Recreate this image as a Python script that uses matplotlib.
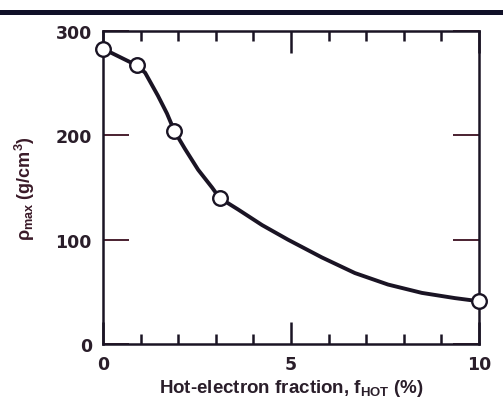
import matplotlib
matplotlib.use('Agg')
import matplotlib.pyplot as plt
from matplotlib.lines import Line2D
from matplotlib.ticker import FixedLocator

# measured points (open circles)
f_hot = [0, 0.9, 1.9, 3.1, 10]
rho_max = [283, 267, 204, 140, 41]

# trace of the drawn curve
curve_x = [0, 0.9, 1.12, 1.46, 1.7, 1.9, 2.18, 2.53, 2.9, 3.1, 3.59, 4.23,
           4.92, 5.82, 6.7, 7.58, 8.48, 9.36, 10]
curve_y = [283, 267, 260, 238, 221, 204, 187, 167, 150, 140, 129, 114,
           100, 83, 68, 57, 49, 44, 41]

x_ticks = [0, 5, 10]
x_minor = [1, 2, 3, 4, 6, 7, 8, 9]
y_ticks = [0, 100, 200, 300]

plt.rcParams['font.family'] = ['Liberation Sans', 'DejaVu Sans']
plt.rcParams['mathtext.fontset'] = 'custom'
plt.rcParams['mathtext.rm'] = 'Liberation Sans:bold'
plt.rcParams['mathtext.it'] = 'Liberation Sans:bold'

ink = '#1a1424'
txt = '#2a1e2a'

fig = plt.figure(figsize=(5.03, 4.06), dpi=100)
ax = fig.add_axes([0.2048, 0.1502, 0.7475, 0.771])

ax.plot(curve_x, curve_y, color=ink, lw=2.8, solid_capstyle='round',
        solid_joinstyle='round', zorder=2)
ax.plot(f_hot, rho_max, 'o', ms=10.5, mfc='white', mec=ink, mew=1.7,
        clip_on=False, zorder=3)

ax.set_xlim(0, 10)
ax.set_ylim(0, 300)
ax.set_xticks(x_ticks)
ax.set_yticks(y_ticks)
ax.xaxis.set_minor_locator(FixedLocator(x_minor))

for s in ax.spines.values():
    s.set_color(ink)
    s.set_linewidth(1.8)

ax.tick_params(axis='x', which='major', direction='in', top=True, length=16,
               width=1.8, color=ink, pad=8, labelcolor=txt)
ax.tick_params(axis='x', which='minor', direction='in', top=True, length=7.5,
               width=1.8, color=ink)
ax.tick_params(axis='y', which='major', direction='in', right=True, length=19,
               width=1.4, color='#4a2030', pad=8, labelcolor=txt)
for lab in ax.get_xticklabels() + ax.get_yticklabels():
    lab.set_fontfamily('DejaVu Sans')
    lab.set_fontweight('bold')
    lab.set_fontsize(12.5)

ax.set_xlabel(r'Hot-electron fraction, f$_{\mathrm{HOT}}$ (%)', fontsize=13.5,
              fontweight='bold', color=txt, labelpad=3)
ax.set_ylabel(r'$\rho_{\mathrm{max}}$ (g/cm$^{3}$)', fontsize=13,
              fontweight='bold', color='#3a1a28', labelpad=13)

# heavy rule across the top of the page
fig.add_artist(Line2D([0, 1], [0.968, 0.968], transform=fig.transFigure,
                      color='#101028', lw=3.6))

fig.savefig('out.png', dpi=100)
